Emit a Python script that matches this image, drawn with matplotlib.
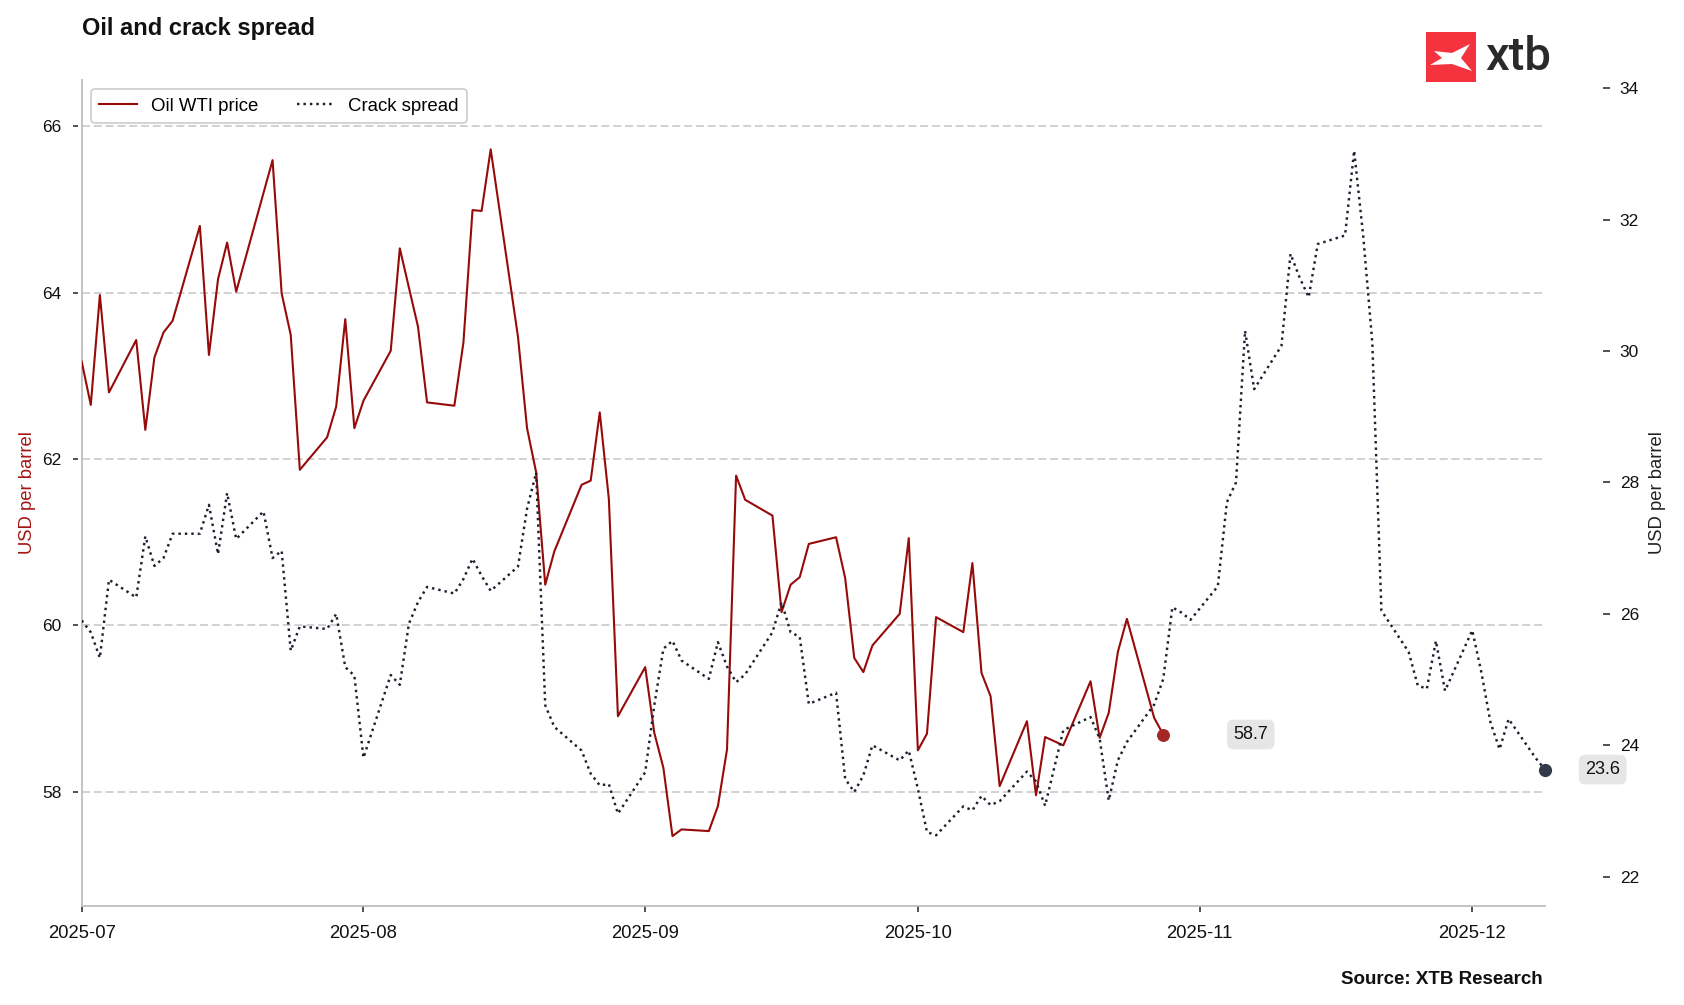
import matplotlib
matplotlib.use("Agg")
import matplotlib.pyplot as plt
import matplotlib.dates as mdates
from matplotlib.lines import Line2D
from matplotlib.patches import Polygon, Rectangle
import pandas as pd

plt.rcParams['font.family'] = ['Liberation Sans', 'DejaVu Sans']

# ---------------- data ----------------
oil_dates = [
    "2025-07-01", "2025-07-02", "2025-07-03", "2025-07-04", "2025-07-07", "2025-07-08", "2025-07-09",
    "2025-07-10", "2025-07-11", "2025-07-14", "2025-07-15", "2025-07-16", "2025-07-17", "2025-07-18",
    "2025-07-22", "2025-07-23", "2025-07-24", "2025-07-25", "2025-07-28", "2025-07-29", "2025-07-30",
    "2025-07-31", "2025-08-01", "2025-08-04", "2025-08-05", "2025-08-07", "2025-08-08", "2025-08-11",
    "2025-08-12", "2025-08-13", "2025-08-14", "2025-08-15", "2025-08-18", "2025-08-19", "2025-08-20",
    "2025-08-21", "2025-08-22", "2025-08-25", "2025-08-26", "2025-08-27", "2025-08-28", "2025-08-29",
    "2025-09-01", "2025-09-02", "2025-09-03", "2025-09-04", "2025-09-05", "2025-09-08", "2025-09-09",
    "2025-09-10", "2025-09-11", "2025-09-12", "2025-09-15", "2025-09-16", "2025-09-17", "2025-09-18",
    "2025-09-19", "2025-09-22", "2025-09-23", "2025-09-24", "2025-09-25", "2025-09-26", "2025-09-29",
    "2025-09-30", "2025-10-01", "2025-10-02", "2025-10-03", "2025-10-06", "2025-10-07", "2025-10-08",
    "2025-10-09", "2025-10-10", "2025-10-13", "2025-10-14", "2025-10-15", "2025-10-17", "2025-10-20",
    "2025-10-21", "2025-10-22", "2025-10-23", "2025-10-24", "2025-10-27", "2025-10-28",
]
oil_values = [
    63.17, 62.65, 63.97, 62.80, 63.43, 62.35, 63.22,
    63.52, 63.66, 64.80, 63.25, 64.16, 64.60, 64.01,
    65.59, 63.99, 63.49, 61.87, 62.26, 62.63, 63.68,
    62.37, 62.70, 63.30, 64.53, 63.59, 62.68, 62.64,
    63.40, 64.99, 64.98, 65.72, 63.47, 62.37, 61.84,
    60.49, 60.89, 61.69, 61.74, 62.56, 61.52, 58.91,
    59.50, 58.71, 58.29, 57.47, 57.55, 57.53, 57.83,
    58.51, 61.80, 61.51, 61.32, 60.16, 60.49, 60.58,
    60.98, 61.06, 60.57, 59.61, 59.44, 59.76, 60.14,
    61.05, 58.50, 58.70, 60.10, 59.92, 60.75, 59.43,
    59.15, 58.07, 58.85, 57.96, 58.66, 58.56, 59.33,
    58.65, 58.95, 59.68, 60.08, 58.89, 58.69,
]

crack_dates = [
    "2025-07-01", "2025-07-02", "2025-07-03", "2025-07-04", "2025-07-07", "2025-07-08", "2025-07-09",
    "2025-07-10", "2025-07-11", "2025-07-14", "2025-07-15", "2025-07-16", "2025-07-17", "2025-07-18",
    "2025-07-21", "2025-07-22", "2025-07-23", "2025-07-24", "2025-07-25", "2025-07-28", "2025-07-29",
    "2025-07-30", "2025-07-31", "2025-08-01", "2025-08-04", "2025-08-05", "2025-08-06", "2025-08-07",
    "2025-08-08", "2025-08-11", "2025-08-12", "2025-08-13", "2025-08-14", "2025-08-15", "2025-08-18",
    "2025-08-19", "2025-08-20", "2025-08-21", "2025-08-22", "2025-08-25", "2025-08-26", "2025-08-27",
    "2025-08-28", "2025-08-29", "2025-09-01", "2025-09-02", "2025-09-03", "2025-09-04", "2025-09-05",
    "2025-09-08", "2025-09-09", "2025-09-10", "2025-09-11", "2025-09-12", "2025-09-15", "2025-09-16",
    "2025-09-17", "2025-09-18", "2025-09-19", "2025-09-22", "2025-09-23", "2025-09-24", "2025-09-25",
    "2025-09-26", "2025-09-29", "2025-09-30", "2025-10-01", "2025-10-02", "2025-10-03", "2025-10-06",
    "2025-10-07", "2025-10-08", "2025-10-09", "2025-10-10", "2025-10-13", "2025-10-14", "2025-10-15",
    "2025-10-17", "2025-10-20", "2025-10-21", "2025-10-22", "2025-10-23", "2025-10-24", "2025-10-27",
    "2025-10-28", "2025-10-29", "2025-10-30", "2025-10-31", "2025-11-03", "2025-11-04", "2025-11-05",
    "2025-11-06", "2025-11-07", "2025-11-10", "2025-11-11", "2025-11-12", "2025-11-13", "2025-11-14",
    "2025-11-17", "2025-11-18", "2025-11-19", "2025-11-20", "2025-11-21", "2025-11-24", "2025-11-25",
    "2025-11-26", "2025-11-27", "2025-11-28", "2025-12-01", "2025-12-02", "2025-12-03", "2025-12-04",
    "2025-12-05", "2025-12-08", "2025-12-09",
]
crack_values = [
    25.90, 25.72, 25.33, 26.52, 26.25, 27.18, 26.73,
    26.85, 27.22, 27.22, 27.66, 26.91, 27.84, 27.14,
    27.56, 26.85, 26.96, 25.44, 25.81, 25.77, 26.00,
    25.19, 25.06, 23.81, 25.07, 24.92, 25.85, 26.18,
    26.41, 26.31, 26.53, 26.84, 26.58, 26.35, 26.72,
    27.60, 28.15, 24.61, 24.28, 23.92, 23.57, 23.39,
    23.41, 22.96, 23.59, 24.61, 25.47, 25.59, 25.29,
    25.01, 25.57, 25.20, 24.96, 25.08, 25.72, 26.18,
    25.72, 25.65, 24.63, 24.80, 23.49, 23.29, 23.54,
    24.00, 23.77, 23.92, 23.34, 22.68, 22.63, 23.07,
    23.01, 23.23, 23.09, 23.15, 23.60, 23.45, 23.08,
    24.23, 24.43, 24.10, 23.16, 23.77, 24.05, 24.62,
    25.01, 26.10, 26.02, 25.91, 26.42, 27.70, 28.00,
    30.31, 29.42, 30.08, 31.48, 31.12, 30.82, 31.63,
    31.76, 33.05, 31.75, 30.13, 26.05, 25.42, 24.91,
    24.86, 25.59, 24.83, 25.75, 25.11, 24.35, 23.94,
    24.40, 23.80, 23.63,
]

left_ticks = [58, 60, 62, 64, 66]
right_ticks = [22, 24, 26, 28, 30, 32, 34]

oil_x = pd.to_datetime(oil_dates)
crack_x = pd.to_datetime(crack_dates)

# ---------------- styling ----------------
OIL_COLOR = '#960a0a'
OIL_DOT = '#a32626'
CRACK_COLOR = '#1c2130'
CRACK_DOT = '#343a48'
SPINE_GRAY = '#bdbdbd'

fig = plt.figure(figsize=(16.84, 10.05), dpi=100)
ax = fig.add_axes([81.7 / 1684, 99 / 1005, (1545 - 81.7) / 1684, (906 - 80) / 1005])
ax2 = ax.twinx()

l1, = ax.plot(oil_x, oil_values, color=OIL_COLOR, lw=1.5, zorder=3)
ax.plot(oil_x[-1:], oil_values[-1:], 'o', ms=8.3, color=OIL_DOT, zorder=4, clip_on=False)

l2, = ax2.plot(crack_x, crack_values, color=CRACK_COLOR, lw=1.75, linestyle=':', zorder=3)
ax2.plot(crack_x[-1:], crack_values[-1:], 'o', ms=8.5, color=CRACK_DOT, zorder=4, clip_on=False)

ax.set_xlim(crack_x[0], crack_x[-1])
ax.set_ylim(56.63, 66.553)
ax2.set_ylim(21.554, 34.126)
ax.set_yticks(left_ticks)
ax2.set_yticks(right_ticks)

ax.xaxis.set_major_locator(mdates.MonthLocator())
ax.xaxis.set_major_formatter(mdates.DateFormatter('%Y-%m'))

# grid
ax.set_axisbelow(True)
ax.grid(axis='y', color='#cccccc', lw=1.25, linestyle=(0, (4.6, 2.2)))
ax.grid(axis='x', visible=False)

# spines
for s in ['top', 'right']:
    ax.spines[s].set_visible(False)
ax.spines['bottom'].set_color(SPINE_GRAY)
ax.spines['bottom'].set_linewidth(1.3)
ax.spines['left'].set_visible(False)
ax.spines['left'].set_position(('outward', 3))
ax.add_line(Line2D([0, 0], [0, 1], transform=ax.transAxes, color=SPINE_GRAY,
                   lw=1.3, clip_on=False, zorder=2))
for s in ['top', 'left', 'bottom']:
    ax2.spines[s].set_visible(False)
ax2.spines['right'].set_position(('outward', 41.8))
ax2.spines['right'].set_visible(False)

ax.tick_params(axis='y', direction='out', length=3.5, width=1.1, pad=8,
               labelsize=12.5, color='#222222', labelcolor='#111111')
ax.tick_params(axis='x', direction='out', length=4.5, width=1.1, pad=9,
               labelsize=13.3, color='#222222', labelcolor='#111111')
ax2.tick_params(axis='y', direction='out', length=5, width=1.1, pad=7,
                labelsize=12.5, color='#222222', labelcolor='#111111')

ax.set_ylabel('USD per barrel', color='#a31515', fontsize=13.3)
ax.yaxis.set_label_coords((35.5 - 81.7) / 1463.3, 0.5)
ax2.set_ylabel('USD per barrel', color='#222222', fontsize=13.3)
ax2.yaxis.set_label_coords((1648.5 - 81.7) / 1463.3, 0.5)

# legend
leg = ax2.legend([l1, l2], ['Oil WTI price', 'Crack spread'], loc='upper left', ncol=2,
                 fontsize=13.4, frameon=True, fancybox=True, edgecolor='#cccccc',
                 facecolor='white', framealpha=1, handlelength=2.0, handletextpad=0.75,
                 columnspacing=2.1, borderaxespad=0.5, borderpad=0.45)
leg.get_frame().set_linewidth(1.2)

# value labels
ax.annotate(f'{oil_values[-1]:.1f}', xy=(oil_x[-1], oil_values[-1]), xytext=(63, 0),
            textcoords='offset points', ha='center', va='center', fontsize=13,
            color='#111111',
            bbox=dict(boxstyle='round,pad=0.35', fc='#e6e6e6', ec='none'), zorder=5)
ax2.annotate(f'{crack_values[-1]:.1f}', xy=(crack_x[-1], crack_values[-1]), xytext=(41.5, 0),
             textcoords='offset points', ha='center', va='center', fontsize=13,
             color='#111111', annotation_clip=False,
             bbox=dict(boxstyle='round,pad=0.35', fc='#e6e6e6', ec='none'), zorder=5)

# title and source
fig.text(81.6 / 1684, 1 - 35.5 / 1005, 'Oil and crack spread', fontsize=17,
         fontweight='bold', ha='left', va='baseline', color='#111111')
fig.text(1543 / 1684, 1 - 984 / 1005, 'Source: XTB Research', fontsize=13.5,
         fontweight='bold', ha='right', va='baseline', color='#111111')

# logo
lax = fig.add_axes([1426 / 1684, 1 - 82 / 1005, 50 / 1684, 50 / 1005])
lax.set_xlim(0, 50)
lax.set_ylim(50, 0)
lax.axis('off')
lax.add_patch(Rectangle((0, 0), 50, 50, color='#f5333f', lw=0))
lax.add_patch(Polygon([(8, 19), (26, 21), (44, 12), (35, 26), (46, 39), (26, 32),
                       (4, 33), (16, 26)], closed=True, color='white', lw=0))
fig.text(1485 / 1684, 1 - 70 / 1005, 'xtb', fontsize=34, ha='left', va='baseline',
         color='#2a2a2a', family=['Roboto', 'Liberation Sans'], fontweight='medium')

fig.savefig('out.png', dpi=100)
